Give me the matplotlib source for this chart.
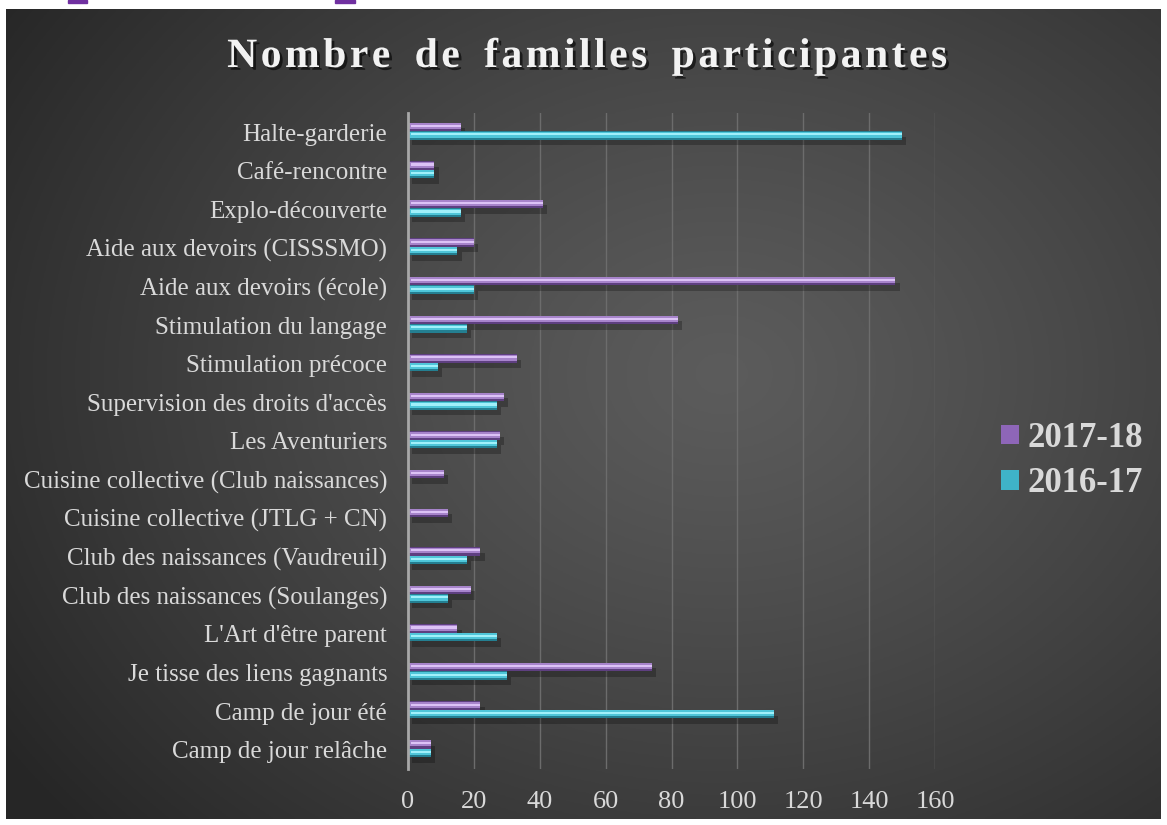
import numpy as np
import matplotlib
matplotlib.use("Agg")
import matplotlib.pyplot as plt
import matplotlib.patheffects as pe
from matplotlib.patches import Rectangle

categories = [
    "Halte-garderie", "Café-rencontre", "Explo-découverte",
    "Aide aux devoirs (CISSSMO)", "Aide aux devoirs (école)",
    "Stimulation du langage", "Stimulation précoce",
    "Supervision des droits d'accès", "Les Aventuriers",
    "Cuisine collective (Club naissances)", "Cuisine collective (JTLG + CN)",
    "Club des naissances (Vaudreuil)", "Club des naissances (Soulanges)",
    "L'Art d'être parent", "Je tisse des liens gagnants",
    "Camp de jour été", "Camp de jour relâche",
]
v_2017_18 = [16, 8, 41, 20, 148, 82, 33, 29, 28, 11, 12, 22, 19, 15, 74, 22, 7]
v_2016_17 = [150, 8, 16, 15, 20, 18, 9, 27, 27, 0, 0, 18, 12, 27, 30, 111, 7]
series_labels = ["2017-18", "2016-17"]
x_ticks = [0, 20, 40, 60, 80, 100, 120, 140, 160]
title = "Nombre de familles participantes"

W, H = 1167, 825
fig = plt.figure(figsize=(W / 100, H / 100), dpi=100, facecolor="white")

# panel background with radial gradient
px0, px1, py0, py1 = 6, 1161, 9, 819
bg = fig.add_axes([px0 / W, 1 - py1 / H, (px1 - px0) / W, (py1 - py0) / H], zorder=0)
gx, gy = np.meshgrid(np.linspace(0, 1, 400), np.linspace(0, 1, 300))
d = np.sqrt(((gx - 0.62) / 0.75) ** 2 + ((gy - 0.55) / 0.85) ** 2)
val = 0.36 - 0.21 * np.clip(d, 0, 1) ** 1.2
img = np.dstack([val, val, val])
bg.imshow(img, aspect="auto", extent=[0, 1, 0, 1], origin="lower")
bg.set_axis_off()

# small purple marks at top edge
for x0, x1 in [(68, 87), (335, 355)]:
    fig.patches.append(Rectangle((x0 / W, 1 - 2.5 / H), (x1 - x0) / W, 2.5 / H,
                                 transform=fig.transFigure, color="#7030a0", zorder=5))

ax = fig.add_axes([408 / W, 1 - 769 / H, 527 / W, 656 / H], zorder=1)
ax.patch.set_alpha(0)

n = len(categories)
y = np.arange(n)
bh = 0.22
yp = y - bh / 2 - 0.03  # 2017-18 on top (axis inverted)
yc = y + bh / 2 - 0.03

shadow = [pe.SimplePatchShadow(offset=(3, -4), shadow_rgbFace="black", alpha=0.25), pe.Normal()]

# purple series
b1 = ax.barh(yp, v_2017_18, height=bh, color="#5e3f80", edgecolor="none", zorder=3,
             path_effects=shadow, label=series_labels[0])
ax.barh(yp - bh * 0.1, v_2017_18, height=bh * 0.7, color="#a784cb", edgecolor="none", zorder=4)
ax.barh(yp - bh * 0.12, [max(v - 0.8, 0) for v in v_2017_18], left=0.8, height=bh * 0.25,
        color="#dcc2f6", edgecolor="none", zorder=5)

# cyan series
b2 = ax.barh(yc, v_2016_17, height=bh, color="#247f91", edgecolor="none", zorder=3,
             path_effects=shadow, label=series_labels[1])
ax.barh(yc - bh * 0.1, v_2016_17, height=bh * 0.7, color="#4fc6d9", edgecolor="none", zorder=4)
ax.barh(yc - bh * 0.12, [max(v - 0.8, 0) for v in v_2016_17], left=0.8, height=bh * 0.25,
        color="#a0f0fa", edgecolor="none", zorder=5)

ax.set_xlim(0, 160)
ax.set_ylim(n - 0.5, -0.5)
ax.set_xticks(x_ticks)
ax.set_yticks(y)
ax.set_yticklabels(categories)
ax.xaxis.grid(True, color="#6c6c6c", linewidth=1.0, zorder=0)
ax.set_axisbelow(True)
for s in ["top", "right", "bottom"]:
    ax.spines[s].set_visible(False)
ax.spines["left"].set_color("#a8a8a8")
ax.spines["left"].set_linewidth(2)
ax.spines["left"].set_zorder(6)
ax.tick_params(axis="both", length=0, colors="#d9d9d9")
ax.tick_params(axis="y", pad=15)
ax.tick_params(axis="x", pad=16)
for lab in ax.get_yticklabels():
    lab.set_fontfamily("Liberation Serif")
    lab.set_fontsize(18)
    lab.set_color("#d9d9d9")
for lab in ax.get_xticklabels():
    lab.set_fontfamily("Liberation Serif")
    lab.set_fontsize(19)
    lab.set_color("#d9d9d9")

spaced = "\u200a".join(title).replace("\u200a \u200a", "\u200a\u200a \u200a\u200a")
t = fig.text(587 / W, 1 - 57 / H, spaced,
             ha="center", va="center", fontsize=30, fontweight="bold",
             family="Liberation Serif", color="#f2f2f2")
t.set_path_effects([pe.withSimplePatchShadow(offset=(2, -2), shadow_rgbFace="black", alpha=0.6)])

leg = fig.legend(handles=[b1, b2], labels=series_labels, loc="center left",
                 bbox_to_anchor=(970 / W, 1 - 461 / H), frameon=False,
                 handlelength=0.5, handleheight=0.5, handletextpad=0.25,
                 labelspacing=0.35,
                 prop={"family": "Liberation Serif", "weight": "bold", "size": 25})
for txt in leg.get_texts():
    txt.set_color("#d9d9d9")
for h in leg.legend_handles:
    h.set_path_effects([])
leg.legend_handles[0].set_facecolor("#8e66b8")
leg.legend_handles[1].set_facecolor("#3fb3c8")

fig.savefig("out.png", dpi=100, facecolor="white")
